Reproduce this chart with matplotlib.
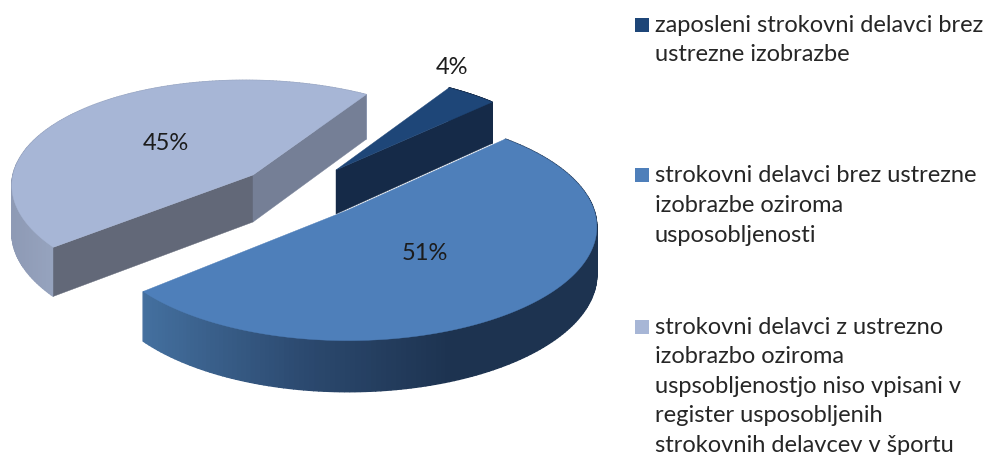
import numpy as np
import matplotlib
matplotlib.use("Agg")
import matplotlib.pyplot as plt
from matplotlib.patches import Polygon, Rectangle
from matplotlib.colors import to_rgb

labels = ["zaposleni strokovni delavci brez\nustrezne izobrazbe",
          "strokovni delavci brez ustrezne\nizobrazbe oziroma\nusposobljenosti",
          "strokovni delavci z ustrezno\nizobrazbo oziroma\nuspsobljenostjo niso vpisani v\nregister usposobljenih\nstrokovnih delavcev v športu"]
values = [4, 51, 45]
top_colors = ["#1e4678", "#4e7fba", "#a7b6d6"]
legend_colors = ["#1e4678", "#4e7fba", "#a7b6d6"]

START = 56.4
# per-slice projection: apex x, apex y, R, Ry, perspective k, depth, x shear, rotation
geom = [
    dict(ax=336, ay=170, R=238, Ry=115, k=.2, d=44, s=0, rot=0,
         rim=[(0, "#152a48"), (1, "#152a48")]),
    dict(ax=348, ay=210, R=246, Ry=111, k=.15, d=47, s=0, rot=3,
         rim=[(142, "#44709f"), (300, "#2c4a70"), (450, "#1d3350"), (600, "#1d3350")]),
    dict(ax=253, ay=175, R=240, Ry=107, k=.13, d=47, s=-8, rot=0,
         rim=[(0, "#8b97b2"), (60, "#98a5c0")]),
]
face_colors = {0: [None, "#152a48"], 1: [None, None], 2: ["#626878", "#757f96"]}
label_pos = [(452, 67), (425, 254), (166, 144)]
legend_y = [18, 168, 320]
text_y = [25, 176, 327]

fig = plt.figure(figsize=(9.91, 4.55), dpi=100)
ax = fig.add_axes([0, 0, 1, 1])
ax.set_xlim(0, 991)
ax.set_ylim(455, 0)
ax.axis("off")

def proj(g, ang, r=1.0, down=0.0):
    t = np.radians(ang + g["rot"])
    u, v = r*np.cos(t), r*np.sin(t)
    w = 1/(1+g["k"]*v)
    return (g["ax"] + g["R"]*u*w + g["s"]*v,
            g["ay"] - g["Ry"]*v*w + down*(1+(w-1)*.5))

def rimcolor(g, x):
    xs = [p[0] for p in g["rim"]]
    cs = np.array([to_rgb(p[1]) for p in g["rim"]])
    return tuple(np.interp(x, xs, cs[:, i]) for i in range(3))

def poly(pts, c, z, lw=0.3):
    ax.add_patch(Polygon(pts, closed=True, facecolor=c, edgecolor=c, lw=lw, zorder=z))

# slice angles from values, clockwise from START
angles = []
a = START
for val in values:
    angles.append((a, a-val*3.6))
    a -= val*3.6

order = [2, 0, 1]
for n, i in enumerate(order):
    g = geom[i]
    a0, a1 = angles[i]
    z = 2+n*10
    grid = np.linspace(a0, a1, 181)
    apex = proj(g, 0, 0)
    apexd = proj(g, 0, 0, g["d"])
    # rim, one continuous gradient of overlapping segments
    for b0, b1 in zip(grid[:-1], grid[1:]):
        p0, p1 = proj(g, b0), proj(g, b1)
        q0, q1 = proj(g, b0, 1, g["d"]), proj(g, b1, 1, g["d"])
        poly([p0, p1, q1, q0], rimcolor(g, (p0[0]+p1[0])/2), z, lw=1.0)
    # cut faces
    for ang, col in zip((a0, a1), face_colors[i]):
        if col:
            poly([apex, proj(g, ang), proj(g, ang, 1, g["d"]), apexd], col, z+1)
    # top
    poly([apex]+[proj(g, b) for b in grid], top_colors[i], z+2)

for val, (x, y) in zip(values, label_pos):
    ax.text(x, y, f"{val}%", ha="center", va="center", fontsize=17, family="Lato",
            color="#1c1c1c", zorder=50)

for lab, c, sy, ty in zip(labels, legend_colors, legend_y, text_y):
    ax.add_patch(Rectangle((635, sy), 14, 14, facecolor=c, edgecolor="none", zorder=50))
    for j, line in enumerate(lab.split("\n")):
        ax.text(655, ty+j*29.6, line, ha="left", va="center", fontsize=17, family="Lato",
                color="#262626", zorder=50)

fig.savefig("out.png", dpi=100)
